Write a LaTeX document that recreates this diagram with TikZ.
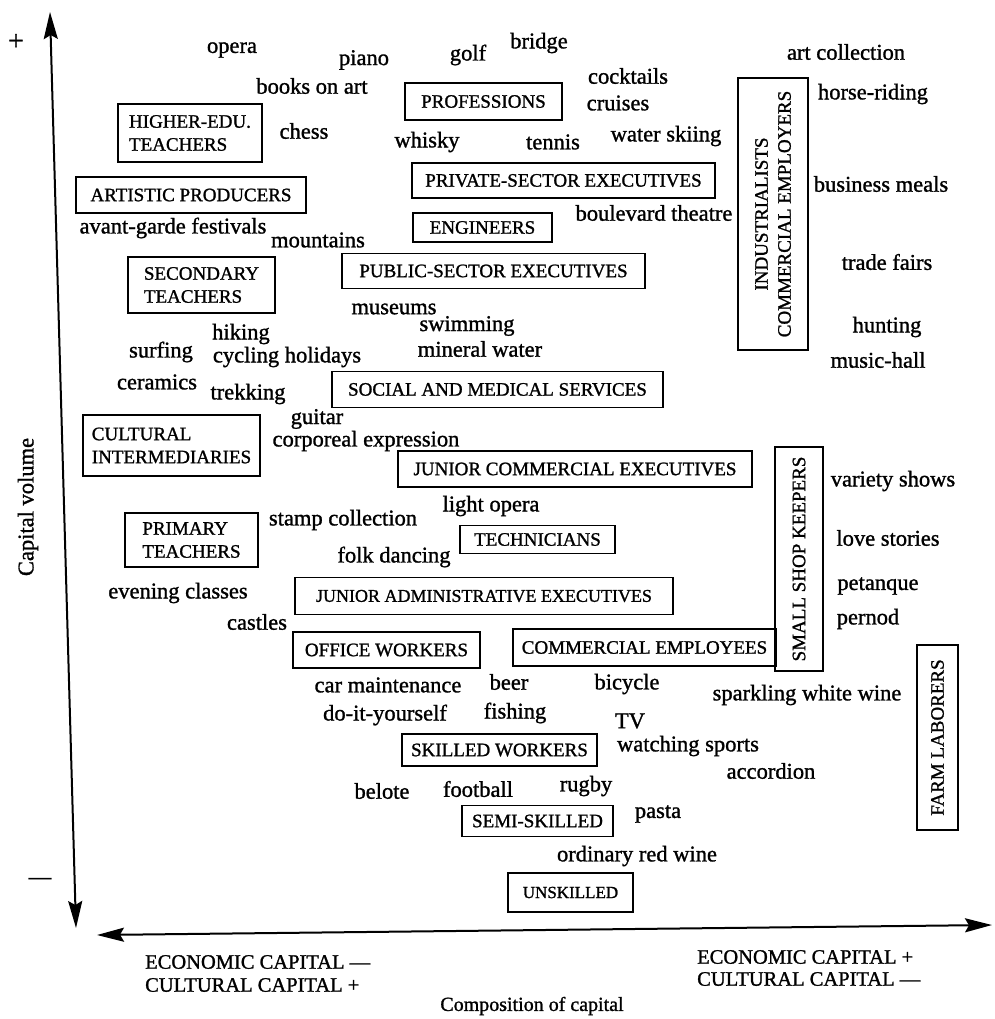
\documentclass[tikz,border=0pt]{standalone}
\usepackage{fontspec}
\setmainfont{Liberation Serif}[FakeBold=1.2]
\usetikzlibrary{arrows.meta}
\tikzset{
  grp/.style={draw, line width=1.5pt, inner sep=3pt, font=\fontsize{19}{23}\selectfont, align=center},
  grpl/.style={grp, align=left},
  lbl/.style={inner sep=0pt, font=\fontsize{22.5}{26}\selectfont},
  caplbl/.style={inner sep=0pt, anchor=west, font=\fontsize{20.5}{24}\selectfont},
  axisline/.style={line width=2pt, {Stealth[length=27pt,width=14pt,inset=4pt]}-{Stealth[length=27pt,width=14pt,inset=4pt]}}
}
\begin{document}
\begin{tikzpicture}[x=1pt,y=-1pt]
\useasboundingbox (0,0) rectangle (994,1019);
% axes
\coordinate (vtop) at (50,12);
\coordinate (vbot) at (76,928);
\coordinate (hl) at (97,935);
\coordinate (hr) at (992,925);
\draw[axisline] (vtop) -- (vbot);
\draw[axisline] (hl) -- (hr);
\node[lbl, font=\fontsize{28}{30}\selectfont] (plus) at (16,42) {+};
\node[lbl] (minus) at (40,881) {—};
\node[lbl, rotate=90] (capvol) at (28,507) {Capital volume};
\node[caplbl] (ecl) at (145,962) {ECONOMIC CAPITAL —};
\node[caplbl] (cul) at (145,985) {CULTURAL CAPITAL +};
\node[caplbl] (ecr) at (697,957) {ECONOMIC CAPITAL +};
\node[caplbl] (cur) at (697,979) {CULTURAL CAPITAL —};
\node[lbl, font=\fontsize{20}{24}\selectfont] (comp) at (532,1006) {Composition of capital};

% group boxes
\node[grpl, minimum width=144, minimum height=58] (higher) at (190,133) {HIGHER-EDU.\\TEACHERS};
\node[grp, minimum width=157, minimum height=37] (prof) at (483.5,101.5) {PROFESSIONS};
\node[grp, minimum width=230, minimum height=36] (artist) at (191,195) {ARTISTIC PRODUCERS};
\node[grp, minimum width=303, minimum height=35] (priv) at (563.5,180.5) {PRIVATE-SECTOR EXECUTIVES};
\node[grp, minimum width=139, minimum height=29] (eng) at (482.5,227.5) {ENGINEERS};
\node[grp, rotate=90, minimum width=272, minimum height=70] (indus) at (773,214) {INDUSTRIALISTS\\COMMERCIAL EMPLOYERS};
\node[grpl, minimum width=147, minimum height=56] (second) at (201.5,285) {SECONDARY\\TEACHERS};
\node[grp, minimum width=303, minimum height=35] (public) at (493.5,271) {PUBLIC-SECTOR EXECUTIVES};
\node[grp, minimum width=331, minimum height=36] (social) at (497.5,389.5) {SOCIAL AND MEDICAL SERVICES};
\node[grpl, minimum width=177, minimum height=61] (cultint) at (171.5,445.5) {CULTURAL\\INTERMEDIARIES};
\node[grp, minimum width=354, minimum height=36] (juncom) at (575,469) {JUNIOR COMMERCIAL EXECUTIVES};
\node[grp, rotate=90, minimum width=224, minimum height=48] (shop) at (799,559) {SMALL SHOP KEEPERS};
\node[grpl, minimum width=133, minimum height=54] (primary) at (191.5,540) {PRIMARY\\TEACHERS};
\node[grp, minimum width=155, minimum height=28] (tech) at (537.5,539.5) {TECHNICIANS};
\node[grp, minimum width=378, minimum height=37, font=\fontsize{18}{22}\selectfont] (junadm) at (484,596) {JUNIOR ADMINISTRATIVE EXECUTIVES};
\node[grp, minimum width=187, minimum height=36] (office) at (386.5,650) {OFFICE WORKERS};
\node[grp, minimum width=263, minimum height=37] (comemp) at (644.5,647.5) {COMMERCIAL EMPLOYEES};
\node[grp, rotate=90, minimum width=185, minimum height=41] (farm) at (937.5,737.5) {FARM LABORERS};
\node[grp, minimum width=195, minimum height=32] (skilled) at (499.5,750) {SKILLED WORKERS};
\node[grp, minimum width=151, minimum height=31] (semi) at (537.5,821) {SEMI-SKILLED};
\node[grp, minimum width=125, minimum height=39, font=\fontsize{17}{21}\selectfont] (unsk) at (570.5,892.5) {UNSKILLED};

% practices
\node[lbl] (opera) at (232,50) {opera};
\node[lbl] (piano) at (364,60) {piano};
\node[lbl] (golf) at (468,55) {golf};
\node[lbl] (bridge) at (539,43) {bridge};
\node[lbl] (books) at (312,86) {books on art};
\node[lbl] (cocktails) at (628,76) {cocktails};
\node[lbl] (cruises) at (618,103) {cruises};
\node[lbl] (artcoll) at (846,52) {art collection};
\node[lbl] (horse) at (873,94) {horse-riding};
\node[lbl] (chess) at (304,131) {chess};
\node[lbl] (whisky) at (427,142) {whisky};
\node[lbl] (tennis) at (553,142) {tennis};
\node[lbl] (waterski) at (666,136) {water skiing};
\node[lbl] (busmeals) at (881,184) {business meals};
\node[lbl] (avant) at (173,228) {avant-garde festivals};
\node[lbl] (mount) at (318,240) {mountains};
\node[lbl] (boul) at (654,213) {boulevard theatre};
\node[lbl] (trade) at (887,262) {trade fairs};
\node[lbl] (museums) at (394,309) {museums};
\node[lbl] (swim) at (467,326) {swimming};
\node[lbl] (hiking) at (241,334) {hiking};
\node[lbl] (surfing) at (161,352) {surfing};
\node[lbl] (cycling) at (287,357) {cycling holidays};
\node[lbl] (mineral) at (480,349) {mineral water};
\node[lbl] (hunting) at (887,327) {hunting};
\node[lbl] (music) at (878,360) {music-hall};
\node[lbl] (ceramics) at (157,382) {ceramics};
\node[lbl] (trekking) at (248,394) {trekking};
\node[lbl] (guitar) at (317,419) {guitar};
\node[lbl] (corp) at (366,441) {corporeal expression};
\node[lbl] (variety) at (893,481) {variety shows};
\node[lbl] (lightop) at (491,506) {light opera};
\node[lbl] (stamp) at (343,520) {stamp collection};
\node[lbl] (love) at (888,538) {love stories};
\node[lbl] (folk) at (394,557) {folk dancing};
\node[lbl] (evening) at (178,593) {evening classes};
\node[lbl] (petanque) at (878,586) {petanque};
\node[lbl] (castles) at (257,622) {castles};
\node[lbl] (pernod) at (868,619) {pernod};
\node[lbl] (carm) at (388,685) {car maintenance};
\node[lbl] (beer) at (509,682) {beer};
\node[lbl] (bicycle) at (627,684) {bicycle};
\node[lbl] (sparkling) at (807,695) {sparkling white wine};
\node[lbl] (diy) at (385,715) {do-it-yourself};
\node[lbl] (fishing) at (515,713) {fishing};
\node[lbl] (tv) at (630,721) {TV};
\node[lbl] (watching) at (688,746) {watching sports};
\node[lbl] (accordion) at (771,771) {accordion};
\node[lbl] (belote) at (382,791) {belote};
\node[lbl] (football) at (478,789) {football};
\node[lbl] (rugby) at (586,786) {rugby};
\node[lbl] (pasta) at (658,814) {pasta};
\node[lbl] (redwine) at (637,856) {ordinary red wine};
\end{tikzpicture}
\end{document}
